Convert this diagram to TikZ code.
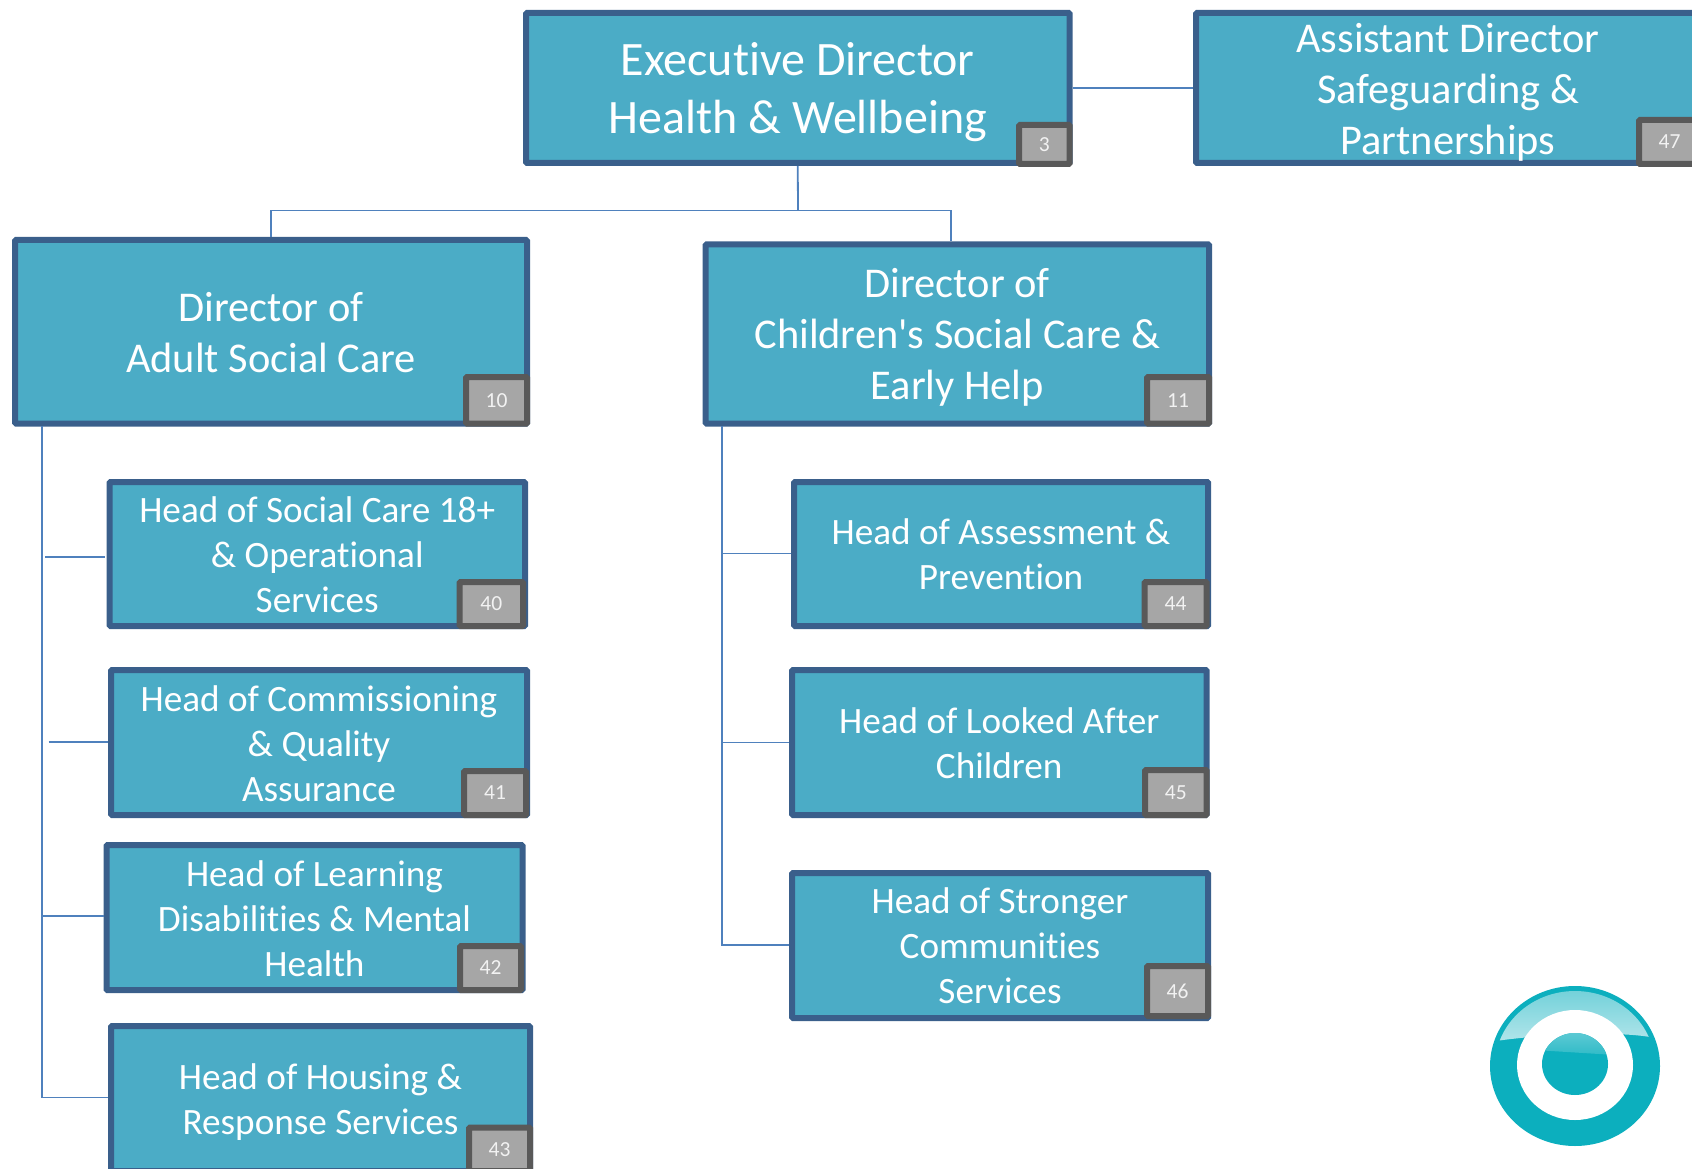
\documentclass[tikz,border=0pt]{standalone}
\usepackage{fontspec}
\setmainfont{Carlito}
\newfontfamily\orgfont{Carlito}[Ligatures=NoCommon]
\definecolor{boxfill}{HTML}{4BACC6}
\definecolor{boxedge}{HTML}{3A5F8B}
\definecolor{badgefill}{HTML}{A6A6A6}
\definecolor{badgeedge}{HTML}{595959}
\definecolor{linkcol}{HTML}{4F81BD}
\definecolor{logocol}{HTML}{0CAFBE}
% name, x0, y0, x1, y1, text style, text, badge x0, badge y0 ; number given by /org/num, badge nudge by badgeadj
\newcommand{\orgbox}[9]{%
  \node[orgnode,minimum width={(#4-#2-6)*1pt},minimum height={(#5-#3-6)*1pt}] (#1) at ({(#2+#4)/2},{(#3+#5)/2}) {};
  \node[orgtext,#6] (#1t) at (#1.center) {#7};
  \node[badgenode,badgeadj,minimum width={(#4-#8-6)*1pt},minimum height={(#5-#9-6)*1pt}] (#1b) at ({(#8+#4)/2},{(#9+#5)/2}) {\pgfkeysvalueof{/org/num}};
}
\pgfkeys{/org/num/.initial={}}
\tikzset{
  orgnode/.style={draw=boxedge,fill=boxfill,line width=6pt,rounded corners=1pt,inner sep=0pt},
  orgtext/.style={text=white,align=center,inner sep=0pt},
  badgenode/.style={draw=badgeedge,fill=badgefill,line width=6pt,rounded corners=1pt,text=white!95!black,inner sep=0pt,font=\orgfont\fontsize{21.5}{25}\selectfont},
  badgeadj/.style={},
  bigtext/.style={font=\orgfont\fontsize{48}{58}\selectfont},
  midtext/.style={font=\orgfont\fontsize{42.4}{51}\selectfont},
  smalltext/.style={font=\orgfont\fontsize{37.2}{45}\selectfont},
  link/.style={draw=linkcol,line width=1.8pt},
}
\begin{document}
\begin{tikzpicture}[x=1pt,y=-1pt]
\useasboundingbox (0,0) rectangle (1692,1169);
\clip (0,0) rectangle (1692,1169);

\tikzset{badgeadj/.style={yshift=-1pt}}
\pgfkeyssetvalue{/org/num}{3}
\orgbox{exec}{523}{10}{1072.5}{166}{bigtext,yshift=-4pt}{Executive Director\\Health \& Wellbeing}{1016}{121}
\pgfkeyssetvalue{/org/num}{47}
\orgbox{asst}{1193}{10}{1703}{166}{midtext,yshift=-4pt}{Assistant Director\\Safeguarding \&\\Partnerships}{1636}{116}
\tikzset{badgeadj/.style={}}
\pgfkeyssetvalue{/org/num}{10}
\orgbox{adult}{12}{237}{530}{426.5}{midtext,yshift=-1pt}{Director of\\Adult Social Care}{463}{374}
\pgfkeyssetvalue{/org/num}{11}
\orgbox{child}{702.5}{241.5}{1212}{426.5}{midtext,yshift=-3pt}{Director of\\Children's Social Care \&\\Early Help}{1144}{374}
\tikzset{badgeadj/.style={xshift=-2pt}}
\pgfkeyssetvalue{/org/num}{40}
\orgbox{hsoc}{106.5}{479}{528}{629}{smalltext,yshift=-1pt}{Head of Social Care 18+\\\& Operational\\Services}{458.5}{579}
\tikzset{badgeadj/.style={xshift=-1pt}}
\pgfkeyssetvalue{/org/num}{41}
\orgbox{hcom}{108}{667}{530}{818}{smalltext,yshift=-1pt}{Head of Commissioning\\\& Quality\\Assurance}{462}{768}
\tikzset{badgeadj/.style={xshift=-1.5pt}}
\pgfkeyssetvalue{/org/num}{42}
\orgbox{hlrn}{103.5}{842}{525.5}{993}{smalltext,yshift=-1pt}{Head of Learning\\Disabilities \& Mental\\Health}{458.5}{943}
\tikzset{badgeadj/.style={}}
\pgfkeyssetvalue{/org/num}{43}
\orgbox{hhou}{108}{1023}{533}{1174}{smalltext,yshift=-4pt}{Head of Housing \&\\Response Services}{466}{1124.5}
\tikzset{badgeadj/.style={xshift=-1.5pt}}
\pgfkeyssetvalue{/org/num}{44}
\orgbox{hass}{791}{479}{1211}{629}{smalltext}{Head of Assessment \&\\Prevention}{1143}{579}
\tikzset{badgeadj/.style={}}
\pgfkeyssetvalue{/org/num}{45}
\orgbox{hlac}{789}{667}{1209.5}{818}{smalltext,yshift=-1pt}{Head of Looked After\\Children}{1142}{767}
\tikzset{badgeadj/.style={yshift=2pt}}
\pgfkeyssetvalue{/org/num}{46}
\orgbox{hstr}{789}{870}{1211}{1021}{smalltext}{Head of Stronger\\Communities\\Services}{1144}{965}

% connectors
\coordinate (tjoin) at (798,210.5);
\coordinate (tchild) at (951,241.5);
\coordinate (vl) at (42,426);
\coordinate (vr) at (722,426);
\coordinate (s1a) at (45,557);
\coordinate (s1b) at (104.5,557);
\coordinate (s2a) at (48.5,742);
\coordinate (s3a) at (42,916);
\coordinate (s4a) at (42,1097.5);
\coordinate (r1a) at (722,553.5);
\coordinate (r2a) at (722,742.5);
\coordinate (r3a) at (722,945);

\draw[link] (exec.east) -- (asst.west);
\draw[link] (exec.south) -- (tjoin);
\draw[link] (tjoin -| adult.north) -- (tjoin -| tchild) -- (tchild);
\draw[link] (tjoin -| adult.north) -- (adult.north);
\draw[link] (vl) -- (s4a) -- (hhou.west |- s4a);
\draw[link] (s1a) -- (s1b);
\draw[link] (s2a) -- (hcom.west |- s2a);
\draw[link] (s3a) -- (hlrn.west |- s3a);
\draw[link] (vr) -- (r3a) -- (hstr.west |- r3a);
\draw[link] (r1a) -- (hass.west |- r1a);
\draw[link] (r2a) -- (hlac.west |- r2a);

% logo
\fill[logocol] (1575,1066) ellipse [x radius=85,y radius=80];
\begin{scope}
  \clip (1575,1066) ellipse [x radius=80,y radius=75];
  \shade[top color=logocol!60!white,bottom color=logocol!32!white] (1490,1042) .. controls (1530,1035) and (1620,1030) .. (1655,1038) -- (1655,985) -- (1490,985) -- cycle;
\end{scope}
\fill[white] (1575,1065) ellipse [x radius=58,y radius=55];
\fill[logocol] (1575,1064) ellipse [x radius=33,y radius=31];
\begin{scope}
  \clip (1575,1064) ellipse [x radius=33,y radius=31];
  \shade[top color=logocol!65!white,bottom color=logocol!85!white] (1535,1030) -- (1615,1030) -- (1615,1055) -- (1535,1050) -- cycle;
\end{scope}
\end{tikzpicture}
\end{document}
